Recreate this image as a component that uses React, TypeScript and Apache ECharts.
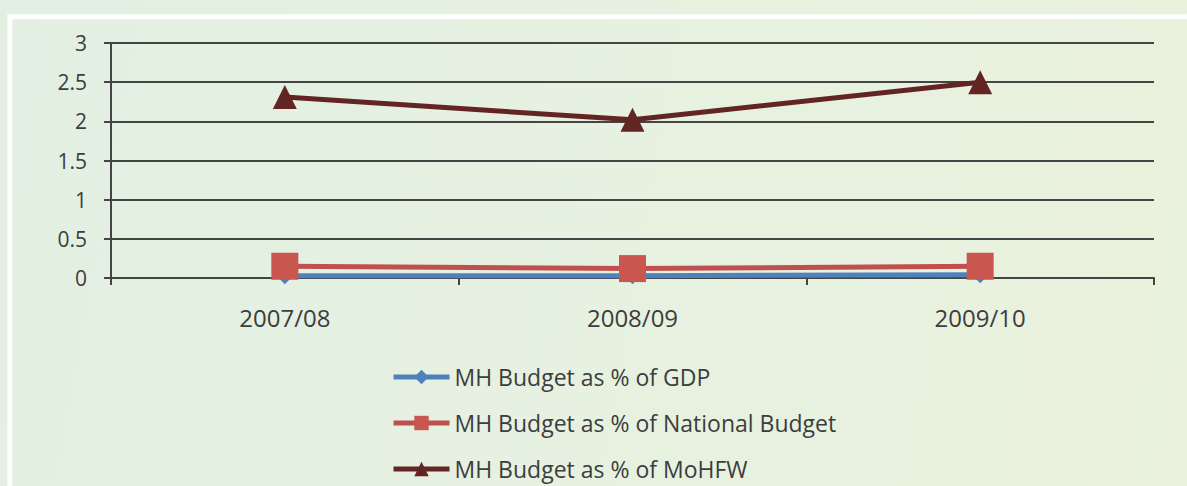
import React, { useEffect, useRef } from "react";
import * as echarts from "echarts";

const categories = ["2007/08", "2008/09", "2009/10"];
const gdpValues = [0.03, 0.03, 0.04];
const nationalValues = [0.15, 0.12, 0.15];
const mohfwValues = [2.31, 2.02, 2.5];
const seriesNames = [
  "MH Budget as % of GDP",
  "MH Budget as % of National Budget",
  "MH Budget as % of MoHFW",
];

export default function App() {
  const ref = useRef<HTMLDivElement>(null);
  useEffect(() => {
    if (!ref.current) return;
    const chart = echarts.init(ref.current, undefined, { renderer: "svg" });
    const textColor = "#3d3d3d";
    const lineColor = "#444444";
    chart.setOption({
      animation: false,
      textStyle: { fontFamily: "Open Sans" },
      graphic: [
        {
          type: "rect",
          silent: true,
          z: -1,
          shape: { x: 9.8, y: 16.7, width: 1400, height: 700 },
          style: { fill: "none", stroke: "#ffffff", lineWidth: 5 },
        },
      ],
      grid: { left: 111, top: 43, right: 33, bottom: 208 },
      xAxis: {
        type: "category",
        data: categories,
        boundaryGap: true,
        axisLine: { lineStyle: { color: lineColor, width: 2 } },
        axisTick: { show: true, length: 7, lineStyle: { color: lineColor, width: 2 } },
        axisLabel: { color: textColor, fontSize: 24, margin: 27 },
      },
      yAxis: {
        type: "value",
        min: 0,
        max: 3,
        interval: 0.5,
        axisLine: { show: true, lineStyle: { color: lineColor, width: 2 } },
        axisTick: { show: true, length: 7, lineStyle: { color: lineColor, width: 2 } },
        axisLabel: { color: textColor, fontSize: 21, margin: 24 },
        splitLine: { lineStyle: { color: lineColor, width: 2 } },
      },
      legend: {
        orient: "vertical",
        left: 391,
        top: 364,
        height: 200,
        itemWidth: 56,
        itemHeight: 18,
        itemGap: 20,
        padding: 0,
        textStyle: { color: textColor, fontSize: 23, lineHeight: 26 },
        data: seriesNames.map((name) => ({ name, lineStyle: { width: 5 } })),
      },
      series: [
        {
          name: seriesNames[0],
          type: "line",
          data: gdpValues,
          symbol: "diamond",
          symbolSize: 17,
          z: 2,
          lineStyle: { width: 5, color: "#4f81bd" },
          itemStyle: { color: "#4f81bd" },
        },
        {
          name: seriesNames[1],
          type: "line",
          data: nationalValues,
          symbol: "rect",
          symbolSize: 27,
          z: 3,
          lineStyle: { width: 5, color: "#c0504d" },
          itemStyle: { color: "#c9564f" },
        },
        {
          name: seriesNames[2],
          type: "line",
          data: mohfwValues,
          symbol: "triangle",
          symbolSize: 24,
          z: 4,
          lineStyle: { width: 5, color: "#632523" },
          itemStyle: { color: "#632523" },
        },
      ],
    });
    return () => chart.dispose();
  }, []);
  return (
    <div
      ref={ref}
      style={{
        position: "fixed",
        left: 0,
        top: 0,
        width: 1187,
        height: 486,
        background: "linear-gradient(100deg, #e2efe2 0%, #e6f1e1 50%, #eaf2dd 100%)",
      }}
    />
  );
}
